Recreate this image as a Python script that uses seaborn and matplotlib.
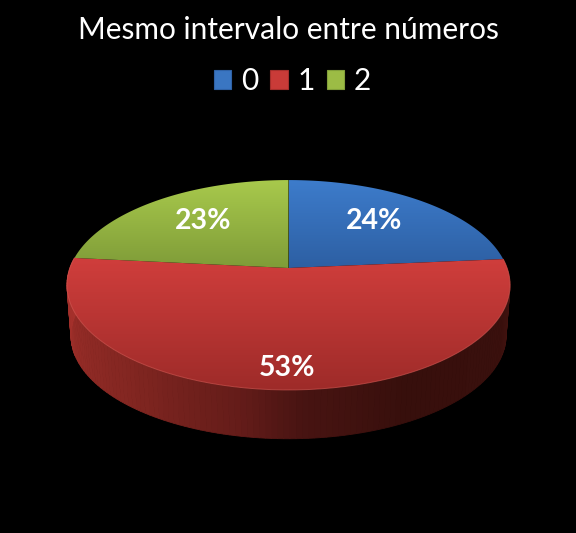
import numpy as np
import matplotlib
matplotlib.use("Agg")
import matplotlib.pyplot as plt
from matplotlib.patches import Polygon, Patch
from matplotlib.colors import LinearSegmentedColormap, to_rgb
import seaborn as sns

# --- data ---
title = "Mesmo intervalo entre números"
categories = ["0", "1", "2"]
shares = [23.6, 53.0, 23.4]
labels = ["24%", "53%", "23%"]

# --- styles ---
top_colors = ["#3D7CCB", "#D03E3C", "#A8C94C"]
bottom_colors = ["#2D5FA3", "#9E2B29", "#7F9C38"]
legend_colors = ["#3A76C2", "#C93B38", "#9CBC45"]
legend_edges = ["#2F62A6", "#A52F2C", "#82A03A"]
side_stops = [(0.0, "#AA322D"), (0.30, "#822621"), (0.45, "#641C19"),
              (0.52, "#481412"), (0.65, "#370F0C"), (0.85, "#3A100D"),
              (1.0, "#4E1612")]
label_radius = [0.625, 0.865, 0.625]

sns.set_theme(style="white")
plt.rcParams["font.family"] = ["Lato", "DejaVu Sans"]

W, H = 576, 533
fig = plt.figure(figsize=(W / 100, H / 100), dpi=100, facecolor="black")
ax = fig.add_axes([0, 0, 1, 1], facecolor="black")
ax.set_xlim(0, W)
ax.set_ylim(H, 0)
ax.axis("off")

CX, CY = 288.5, 268.0
RW, RH, K = 218.6, 102.2, 0.162
DEPTH, SHRINK = 51.0, 0.982


def project(theta, r=1.0, drop=0.0, scale=1.0):
    """theta clockwise from 12 o'clock, perspective-tilted disc."""
    X, Y = r * np.sin(theta), r * np.cos(theta)
    s = 1 + K * Y
    return CX + scale * RW * X / s, CY + drop - scale * RH * Y / s


fractions = np.array(shares) / np.sum(shares)
edges = np.concatenate([[0], np.cumsum(fractions)]) * 2 * np.pi

# side wall of the front-facing wedge
red_from, red_to = edges[1], edges[2]
ts = np.linspace(red_from, red_to, 140)
cmap = LinearSegmentedColormap.from_list("side", side_stops)
xt, yt = project(ts)
xb, yb = project(ts, drop=DEPTH, scale=SHRINK)
for i in range(len(ts) - 1):
    u = 1 - (ts[i] - red_from) / (red_to - red_from)
    c = cmap(u)
    ax.add_patch(Polygon([(xt[i], yt[i]), (xt[i + 1], yt[i + 1]),
                          (xb[i + 1], yb[i + 1]), (xb[i], yb[i])],
                         closed=True, fc=c, ec=c, lw=0.6, zorder=2))

# top wedges with vertical gradient
for i in range(len(shares)):
    t = np.linspace(edges[i], edges[i + 1], 160)
    x, y = project(t)
    pts = np.column_stack([np.r_[CX, x], np.r_[CY, y]])
    poly = Polygon(pts, closed=True, fc="none", ec="none", zorder=3)
    ax.add_patch(poly)
    top, bot = np.array(to_rgb(top_colors[i])), np.array(to_rgb(bottom_colors[i]))
    y0, y1 = pts[:, 1].min(), pts[:, 1].max()
    g = np.linspace(0, 1, 128)[:, None, None]
    img = top + (bot - top) * g
    im = ax.imshow(img, extent=[pts[:, 0].min(), pts[:, 0].max(), y1, y0],
                   aspect="auto", zorder=3, interpolation="bilinear")
    im.set_clip_path(poly)

ax.set_xlim(0, W)
ax.set_ylim(H, 0)

# light rim on the front edge
x, y = project(ts)
ax.plot(x, y, color="#D65A55", lw=0.7, alpha=0.6, zorder=4)

# percentage labels
for i, lab in enumerate(labels):
    mid = (edges[i] + edges[i + 1]) / 2
    lx, ly = project(mid, r=label_radius[i])
    ax.text(lx, ly - 3, lab, color="white", fontsize=20.5, fontweight="bold",
            ha="center", va="center", zorder=5)

fig.text(0.5, 1 - 30 / H, title, color="white", fontsize=21.5, ha="center", va="center")

handles = [Patch(fc=c, ec=e, lw=0.8) for c, e in zip(legend_colors, legend_edges)]
fig.legend(handles, categories, ncol=3, frameon=False, labelcolor="white",
           fontsize=21.5, loc="center", bbox_to_anchor=(0.508, 1 - 81 / H),
           handlelength=0.58, handleheight=0.58, handletextpad=0.33,
           columnspacing=0.40, borderpad=0)

fig.savefig("out.png", dpi=100, facecolor="black")
